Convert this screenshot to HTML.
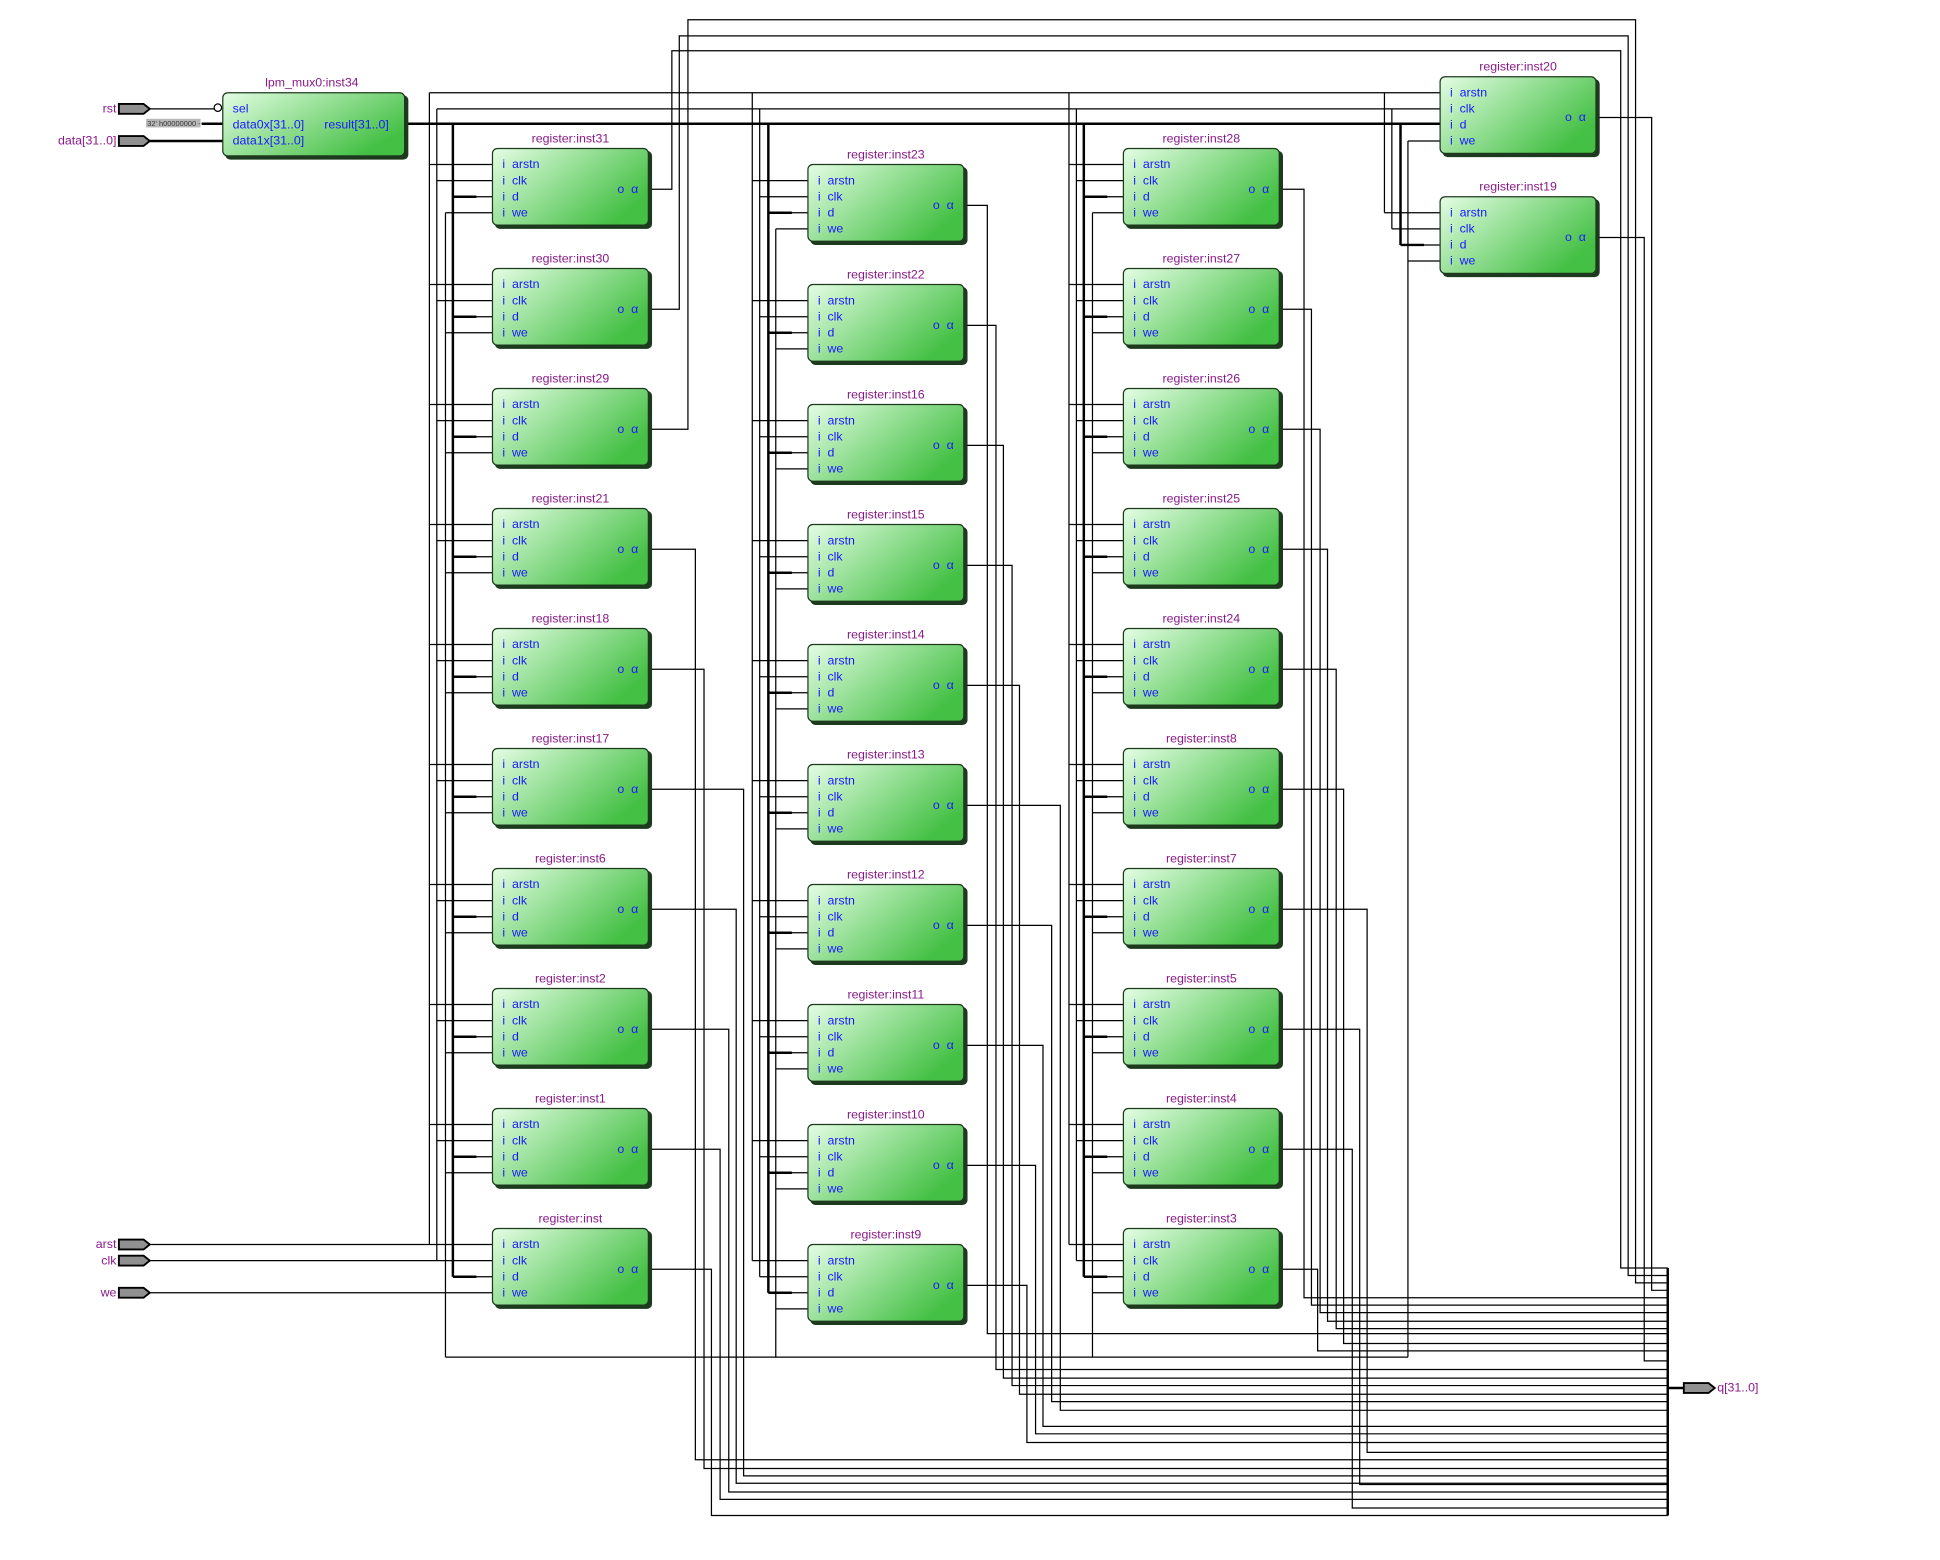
<!DOCTYPE html>
<html><head><meta charset="utf-8"><style>
html,body{margin:0;padding:0;background:#fff;}
svg{display:block}
text{font-family:"Liberation Sans",sans-serif;font-size:10px;white-space:pre}
.t{fill:#8a1a8a;text-anchor:middle}
.p{fill:#1a1aff}
.pin{fill:#8a1a8a}
</style></head><body>
<svg width="1940" height="1560" viewBox="0 0 1568 1261" xmlns="http://www.w3.org/2000/svg">
<defs>
<linearGradient id="g" x1="0" y1="0" x2="1" y2="0.6"><stop offset="0" stop-color="#e4fde4"/><stop offset="1" stop-color="#44c044"/></linearGradient>
<g id="bx"><rect x="2" y="2" width="127" height="63" rx="4" fill="#1e3a1e"/><rect width="126" height="62" rx="4" fill="url(#g)" stroke="#1e3a1e"/></g>
</defs>
<g stroke="#000" fill="none" stroke-width="1">
<!-- inputs -->
<path d="M121,88H173M347,1006H121M353,1019H121M360,1045H121"/>
<path d="M121,114H180M163,100H180M328,100H1164" stroke-width="2"/>
<path d="M347,75H1164M353,88H1164M360,1097H1138"/>
<!-- col1 buses -->
<path d="M347,75V1006M353,88V1019M360,172V1097"/>
<path d="M366,100V1032" stroke-width="2"/>
<path d="M347,133H398M347,230H398M347,327H398M347,424H398M347,521H398M347,618H398M347,715H398M347,812H398M347,909H398M347,1006H398"/>
<path d="M353,146H398M353,243H398M353,340H398M353,437H398M353,534H398M353,631H398M353,728H398M353,825H398M353,922H398M353,1019H398"/>
<path d="M366,159H398M366,256H398M366,353H398M366,450H398M366,547H398M366,644H398M366,741H398M366,838H398M366,935H398M366,1032H398"/>
<path d="M366,159H385M366,256H385M366,353H385M366,450H385M366,547H385M366,644H385M366,741H385M366,838H385M366,935H385M366,1032H385" stroke-width="2"/>
<path d="M360,172H398M360,269H398M360,366H398M360,463H398M360,560H398M360,657H398M360,754H398M360,851H398M360,948H398M360,1045H398"/>
<!-- col2 buses -->
<path d="M608,75V1019M614,88V1032M627,185V1097"/>
<path d="M621,100V1045" stroke-width="2"/>
<path d="M608,146H653M608,243H653M608,340H653M608,437H653M608,534H653M608,631H653M608,728H653M608,825H653M608,922H653M608,1019H653"/>
<path d="M614,159H653M614,256H653M614,353H653M614,450H653M614,547H653M614,644H653M614,741H653M614,838H653M614,935H653M614,1032H653"/>
<path d="M621,172H653M621,269H653M621,366H653M621,463H653M621,560H653M621,657H653M621,754H653M621,851H653M621,948H653M621,1045H653"/>
<path d="M621,172H640M621,269H640M621,366H640M621,463H640M621,560H640M621,657H640M621,754H640M621,851H640M621,948H640M621,1045H640" stroke-width="2"/>
<path d="M627,185H653M627,282H653M627,379H653M627,476H653M627,573H653M627,670H653M627,767H653M627,864H653M627,961H653M627,1058H653"/>
<!-- col3 buses -->
<path d="M864,75V1006M870,88V1019M883,172V1097"/>
<path d="M876,100V1032" stroke-width="2"/>
<path d="M864,133H908M864,230H908M864,327H908M864,424H908M864,521H908M864,618H908M864,715H908M864,812H908M864,909H908M864,1006H908"/>
<path d="M870,146H908M870,243H908M870,340H908M870,437H908M870,534H908M870,631H908M870,728H908M870,825H908M870,922H908M870,1019H908"/>
<path d="M876,159H908M876,256H908M876,353H908M876,450H908M876,547H908M876,644H908M876,741H908M876,838H908M876,935H908M876,1032H908"/>
<path d="M876,159H895M876,256H895M876,353H895M876,450H895M876,547H895M876,644H895M876,741H895M876,838H895M876,935H895M876,1032H895" stroke-width="2"/>
<path d="M883,172H908M883,269H908M883,366H908M883,463H908M883,560H908M883,657H908M883,754H908M883,851H908M883,948H908M883,1045H908"/>
<!-- col4 buses -->
<path d="M1119,75V172M1125,88V185M1138,114V1097"/>
<path d="M1132,100V198" stroke-width="2"/>
<path d="M1119,172H1164M1125,185H1164M1132,198H1164M1138,114H1164M1138,211H1164"/>
<path d="M1132,198H1151" stroke-width="2"/>
<!-- output bus -->
<path d="M1348,1025V1225M1348,1122H1361" stroke-width="2"/>
<!-- col1 outputs -->
<path d="M525,153H543V41H1310V1025H1348M525,250H549V29H1316V1031H1348M525,347H556V16H1322V1037H1348"/>
<path d="M525,444H562V1180H1348M525,541H569V1187H1348M525,638H601V1193H1348M525,735H595V1199H1348M525,832H589V1206H1348M525,929H582V1212H1348M525,1026H575V1225H1348"/>
<!-- col2 outputs -->
<path d="M780,166H798V1078H1348M780,263H805V1107H1348M780,360H811V1114H1348M780,457H818V1120H1348M780,554H824V1127H1348M780,651H857V1140H1348M780,748H850V1133H1348M780,845H843V1153H1348M780,942H837V1159H1348M780,1039H830V1166H1348"/>
<!-- col3 outputs -->
<path d="M1035,153H1054V1049H1348M1035,250H1060V1055H1348M1035,347H1067V1061H1348M1035,444H1073V1068H1348M1035,541H1080V1074H1348M1035,638H1086V1086H1348M1035,735H1105V1174H1348M1035,832H1099V1200H1348M1035,929H1093V1219H1348M1035,1026H1065V1092H1348"/>
<!-- col4 outputs -->
<path d="M1291,95H1335V1043H1348M1291,192H1329V1100H1348"/>
</g>

<!-- pins -->
<g stroke="#000" stroke-width="1.5" fill="#909090">
<path d="M96,84 h20 l5,4 l-5,4 h-20z"/>
<path d="M96,110 h20 l5,4 l-5,4 h-20z"/>
<path d="M96,1002 h20 l5,4 l-5,4 h-20z"/>
<path d="M96,1015 h20 l5,4 l-5,4 h-20z"/>
<path d="M96,1041 h20 l5,4 l-5,4 h-20z"/>
<path d="M1361,1118 h20 l5,4 l-5,4 h-20z"/>
</g>
<text class="pin" x="94" y="91" text-anchor="end">rst</text>
<text class="pin" x="94" y="117" text-anchor="end">data[31..0]</text>
<text class="pin" x="94" y="1009" text-anchor="end">arst</text>
<text class="pin" x="94" y="1022" text-anchor="end">clk</text>
<text class="pin" x="94" y="1048" text-anchor="end">we</text>
<text class="pin" x="1388" y="1125">q[31..0]</text>
<rect x="118" y="96" width="44" height="7" fill="#b8b8b8"/>
<text x="119" y="102" style="font-size:6px;fill:#333">32' h00000000 --</text>

<!-- mux -->
<rect x="182" y="77" width="148" height="52" rx="4" fill="#1e3a1e"/>
<rect x="180" y="75" width="147" height="51" rx="4" fill="url(#g)" stroke="#1e3a1e"/>
<text class="t" x="252" y="70">lpm_mux0:inst34</text>
<text class="p" x="188" y="91">sel</text>
<text class="p" x="188" y="104">data0x[31..0]</text>
<text class="p" x="188" y="117">data1x[31..0]</text>
<text class="p" x="262" y="104">result[31..0]</text>
<circle cx="176" cy="87" r="3" fill="#fff" stroke="#000"/>

<g transform="translate(398,120)"><use href="#bx"/><text class="t" x="63" y="-5">register:inst31</text><text class="p" x="8" y="16">i  arstn</text><text class="p" x="8" y="29">i  clk</text><text class="p" x="8" y="42">i  d</text><text class="p" x="8" y="55">i  we</text><text class="p" x="101" y="36">o  α</text></g>
<g transform="translate(398,217)"><use href="#bx"/><text class="t" x="63" y="-5">register:inst30</text><text class="p" x="8" y="16">i  arstn</text><text class="p" x="8" y="29">i  clk</text><text class="p" x="8" y="42">i  d</text><text class="p" x="8" y="55">i  we</text><text class="p" x="101" y="36">o  α</text></g>
<g transform="translate(398,314)"><use href="#bx"/><text class="t" x="63" y="-5">register:inst29</text><text class="p" x="8" y="16">i  arstn</text><text class="p" x="8" y="29">i  clk</text><text class="p" x="8" y="42">i  d</text><text class="p" x="8" y="55">i  we</text><text class="p" x="101" y="36">o  α</text></g>
<g transform="translate(398,411)"><use href="#bx"/><text class="t" x="63" y="-5">register:inst21</text><text class="p" x="8" y="16">i  arstn</text><text class="p" x="8" y="29">i  clk</text><text class="p" x="8" y="42">i  d</text><text class="p" x="8" y="55">i  we</text><text class="p" x="101" y="36">o  α</text></g>
<g transform="translate(398,508)"><use href="#bx"/><text class="t" x="63" y="-5">register:inst18</text><text class="p" x="8" y="16">i  arstn</text><text class="p" x="8" y="29">i  clk</text><text class="p" x="8" y="42">i  d</text><text class="p" x="8" y="55">i  we</text><text class="p" x="101" y="36">o  α</text></g>
<g transform="translate(398,605)"><use href="#bx"/><text class="t" x="63" y="-5">register:inst17</text><text class="p" x="8" y="16">i  arstn</text><text class="p" x="8" y="29">i  clk</text><text class="p" x="8" y="42">i  d</text><text class="p" x="8" y="55">i  we</text><text class="p" x="101" y="36">o  α</text></g>
<g transform="translate(398,702)"><use href="#bx"/><text class="t" x="63" y="-5">register:inst6</text><text class="p" x="8" y="16">i  arstn</text><text class="p" x="8" y="29">i  clk</text><text class="p" x="8" y="42">i  d</text><text class="p" x="8" y="55">i  we</text><text class="p" x="101" y="36">o  α</text></g>
<g transform="translate(398,799)"><use href="#bx"/><text class="t" x="63" y="-5">register:inst2</text><text class="p" x="8" y="16">i  arstn</text><text class="p" x="8" y="29">i  clk</text><text class="p" x="8" y="42">i  d</text><text class="p" x="8" y="55">i  we</text><text class="p" x="101" y="36">o  α</text></g>
<g transform="translate(398,896)"><use href="#bx"/><text class="t" x="63" y="-5">register:inst1</text><text class="p" x="8" y="16">i  arstn</text><text class="p" x="8" y="29">i  clk</text><text class="p" x="8" y="42">i  d</text><text class="p" x="8" y="55">i  we</text><text class="p" x="101" y="36">o  α</text></g>
<g transform="translate(398,993)"><use href="#bx"/><text class="t" x="63" y="-5">register:inst</text><text class="p" x="8" y="16">i  arstn</text><text class="p" x="8" y="29">i  clk</text><text class="p" x="8" y="42">i  d</text><text class="p" x="8" y="55">i  we</text><text class="p" x="101" y="36">o  α</text></g>

<g transform="translate(653,133)"><use href="#bx"/><text class="t" x="63" y="-5">register:inst23</text><text class="p" x="8" y="16">i  arstn</text><text class="p" x="8" y="29">i  clk</text><text class="p" x="8" y="42">i  d</text><text class="p" x="8" y="55">i  we</text><text class="p" x="101" y="36">o  α</text></g>
<g transform="translate(653,230)"><use href="#bx"/><text class="t" x="63" y="-5">register:inst22</text><text class="p" x="8" y="16">i  arstn</text><text class="p" x="8" y="29">i  clk</text><text class="p" x="8" y="42">i  d</text><text class="p" x="8" y="55">i  we</text><text class="p" x="101" y="36">o  α</text></g>
<g transform="translate(653,327)"><use href="#bx"/><text class="t" x="63" y="-5">register:inst16</text><text class="p" x="8" y="16">i  arstn</text><text class="p" x="8" y="29">i  clk</text><text class="p" x="8" y="42">i  d</text><text class="p" x="8" y="55">i  we</text><text class="p" x="101" y="36">o  α</text></g>
<g transform="translate(653,424)"><use href="#bx"/><text class="t" x="63" y="-5">register:inst15</text><text class="p" x="8" y="16">i  arstn</text><text class="p" x="8" y="29">i  clk</text><text class="p" x="8" y="42">i  d</text><text class="p" x="8" y="55">i  we</text><text class="p" x="101" y="36">o  α</text></g>
<g transform="translate(653,521)"><use href="#bx"/><text class="t" x="63" y="-5">register:inst14</text><text class="p" x="8" y="16">i  arstn</text><text class="p" x="8" y="29">i  clk</text><text class="p" x="8" y="42">i  d</text><text class="p" x="8" y="55">i  we</text><text class="p" x="101" y="36">o  α</text></g>
<g transform="translate(653,618)"><use href="#bx"/><text class="t" x="63" y="-5">register:inst13</text><text class="p" x="8" y="16">i  arstn</text><text class="p" x="8" y="29">i  clk</text><text class="p" x="8" y="42">i  d</text><text class="p" x="8" y="55">i  we</text><text class="p" x="101" y="36">o  α</text></g>
<g transform="translate(653,715)"><use href="#bx"/><text class="t" x="63" y="-5">register:inst12</text><text class="p" x="8" y="16">i  arstn</text><text class="p" x="8" y="29">i  clk</text><text class="p" x="8" y="42">i  d</text><text class="p" x="8" y="55">i  we</text><text class="p" x="101" y="36">o  α</text></g>
<g transform="translate(653,812)"><use href="#bx"/><text class="t" x="63" y="-5">register:inst11</text><text class="p" x="8" y="16">i  arstn</text><text class="p" x="8" y="29">i  clk</text><text class="p" x="8" y="42">i  d</text><text class="p" x="8" y="55">i  we</text><text class="p" x="101" y="36">o  α</text></g>
<g transform="translate(653,909)"><use href="#bx"/><text class="t" x="63" y="-5">register:inst10</text><text class="p" x="8" y="16">i  arstn</text><text class="p" x="8" y="29">i  clk</text><text class="p" x="8" y="42">i  d</text><text class="p" x="8" y="55">i  we</text><text class="p" x="101" y="36">o  α</text></g>
<g transform="translate(653,1006)"><use href="#bx"/><text class="t" x="63" y="-5">register:inst9</text><text class="p" x="8" y="16">i  arstn</text><text class="p" x="8" y="29">i  clk</text><text class="p" x="8" y="42">i  d</text><text class="p" x="8" y="55">i  we</text><text class="p" x="101" y="36">o  α</text></g>

<g transform="translate(908,120)"><use href="#bx"/><text class="t" x="63" y="-5">register:inst28</text><text class="p" x="8" y="16">i  arstn</text><text class="p" x="8" y="29">i  clk</text><text class="p" x="8" y="42">i  d</text><text class="p" x="8" y="55">i  we</text><text class="p" x="101" y="36">o  α</text></g>
<g transform="translate(908,217)"><use href="#bx"/><text class="t" x="63" y="-5">register:inst27</text><text class="p" x="8" y="16">i  arstn</text><text class="p" x="8" y="29">i  clk</text><text class="p" x="8" y="42">i  d</text><text class="p" x="8" y="55">i  we</text><text class="p" x="101" y="36">o  α</text></g>
<g transform="translate(908,314)"><use href="#bx"/><text class="t" x="63" y="-5">register:inst26</text><text class="p" x="8" y="16">i  arstn</text><text class="p" x="8" y="29">i  clk</text><text class="p" x="8" y="42">i  d</text><text class="p" x="8" y="55">i  we</text><text class="p" x="101" y="36">o  α</text></g>
<g transform="translate(908,411)"><use href="#bx"/><text class="t" x="63" y="-5">register:inst25</text><text class="p" x="8" y="16">i  arstn</text><text class="p" x="8" y="29">i  clk</text><text class="p" x="8" y="42">i  d</text><text class="p" x="8" y="55">i  we</text><text class="p" x="101" y="36">o  α</text></g>
<g transform="translate(908,508)"><use href="#bx"/><text class="t" x="63" y="-5">register:inst24</text><text class="p" x="8" y="16">i  arstn</text><text class="p" x="8" y="29">i  clk</text><text class="p" x="8" y="42">i  d</text><text class="p" x="8" y="55">i  we</text><text class="p" x="101" y="36">o  α</text></g>
<g transform="translate(908,605)"><use href="#bx"/><text class="t" x="63" y="-5">register:inst8</text><text class="p" x="8" y="16">i  arstn</text><text class="p" x="8" y="29">i  clk</text><text class="p" x="8" y="42">i  d</text><text class="p" x="8" y="55">i  we</text><text class="p" x="101" y="36">o  α</text></g>
<g transform="translate(908,702)"><use href="#bx"/><text class="t" x="63" y="-5">register:inst7</text><text class="p" x="8" y="16">i  arstn</text><text class="p" x="8" y="29">i  clk</text><text class="p" x="8" y="42">i  d</text><text class="p" x="8" y="55">i  we</text><text class="p" x="101" y="36">o  α</text></g>
<g transform="translate(908,799)"><use href="#bx"/><text class="t" x="63" y="-5">register:inst5</text><text class="p" x="8" y="16">i  arstn</text><text class="p" x="8" y="29">i  clk</text><text class="p" x="8" y="42">i  d</text><text class="p" x="8" y="55">i  we</text><text class="p" x="101" y="36">o  α</text></g>
<g transform="translate(908,896)"><use href="#bx"/><text class="t" x="63" y="-5">register:inst4</text><text class="p" x="8" y="16">i  arstn</text><text class="p" x="8" y="29">i  clk</text><text class="p" x="8" y="42">i  d</text><text class="p" x="8" y="55">i  we</text><text class="p" x="101" y="36">o  α</text></g>
<g transform="translate(908,993)"><use href="#bx"/><text class="t" x="63" y="-5">register:inst3</text><text class="p" x="8" y="16">i  arstn</text><text class="p" x="8" y="29">i  clk</text><text class="p" x="8" y="42">i  d</text><text class="p" x="8" y="55">i  we</text><text class="p" x="101" y="36">o  α</text></g>

<g transform="translate(1164,62)"><use href="#bx"/><text class="t" x="63" y="-5">register:inst20</text><text class="p" x="8" y="16">i  arstn</text><text class="p" x="8" y="29">i  clk</text><text class="p" x="8" y="42">i  d</text><text class="p" x="8" y="55">i  we</text><text class="p" x="101" y="36">o  α</text></g>
<g transform="translate(1164,159)"><use href="#bx"/><text class="t" x="63" y="-5">register:inst19</text><text class="p" x="8" y="16">i  arstn</text><text class="p" x="8" y="29">i  clk</text><text class="p" x="8" y="42">i  d</text><text class="p" x="8" y="55">i  we</text><text class="p" x="101" y="36">o  α</text></g>
</svg>
</body></html>
